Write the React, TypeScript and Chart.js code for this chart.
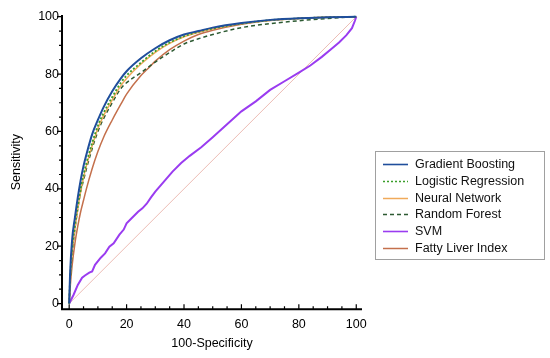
import React, { useEffect, useRef } from "react";
import { Chart, registerables } from "chart.js";

Chart.register(...registerables);

// ---- Data (100-Specificity, Sensitivity) ----
const gbFpr = [0, 0.3, 1, 2, 3, 4, 5, 6, 8, 10, 12, 15, 18, 20, 25, 30, 35, 40, 45, 50, 60, 70, 80, 90, 100];
const gbSens = [0, 10, 22, 30, 37, 43, 48, 52, 59, 64, 68.5, 74, 78.5, 81, 85.5, 89, 91.8, 93.8, 95, 96.2, 97.8, 98.9, 99.5, 99.8, 100];

const lrFpr = [0, 0.3, 1, 2, 3, 4, 5, 6, 8, 10, 12, 15, 18, 20, 25, 30, 35, 40, 45, 50, 60, 70, 80, 90, 100];
const lrSens = [0, 8, 19, 27, 34, 40, 45, 49, 56, 62, 66.5, 72, 77, 79.5, 84, 88, 91, 93.2, 94.7, 95.9, 97.6, 98.8, 99.4, 99.8, 100];

const nnFpr = [0, 0.3, 1, 2, 3, 4, 5, 6, 8, 10, 12, 15, 18, 20, 25, 30, 35, 40, 45, 50, 60, 70, 80, 90, 100];
const nnSens = [0, 7.5, 18, 26, 33, 39, 44, 48, 55, 61, 65.5, 71, 76, 78.5, 83.5, 87.6, 90.7, 93, 94.6, 95.8, 97.6, 98.8, 99.4, 99.8, 100];

const rfFpr = [0, 0.3, 1, 2, 3, 4, 5, 6, 8, 10, 12, 15, 18, 20, 25, 30, 35, 40, 45, 50, 60, 70, 80, 90, 100];
const rfSens = [0, 7, 17, 26, 33, 39, 43, 47, 54, 60, 64.5, 70, 75, 77, 80.5, 84.2, 87.5, 90.5, 92.3, 93.8, 96.2, 97.6, 98.6, 99.4, 100];

const svmFpr = [0, 1.5, 3, 4.5, 5.5, 7, 8, 9, 11, 12.5, 14, 15.5, 17.5, 19, 20, 22, 24, 25.5, 27, 28.5, 30, 33, 36, 39, 42, 46, 50, 55, 60, 65, 70, 75, 80, 84, 88, 91, 94, 96.5, 98.5, 99.5, 100];
const svmSens = [0, 3, 6.5, 9, 9.8, 10.8, 11.2, 13.5, 16, 17.5, 19.8, 21, 24, 25.8, 28, 30, 32, 33.2, 34.8, 37, 39, 42.5, 46, 49, 51.5, 54.5, 58, 62.5, 67, 70.5, 74.5, 77.5, 80.5, 83, 86, 88.5, 91, 93.5, 96, 98.5, 100];

const fliFpr = [0, 0.3, 1, 2, 3, 4, 5, 6, 8, 10, 12, 15, 18, 20, 25, 28, 30, 35, 40, 45, 50, 60, 70, 80, 90, 100];
const fliSens = [0, 5, 13, 21, 27, 32, 36, 40, 47, 53, 58, 64, 69.5, 73, 79.5, 82.5, 84.5, 88.5, 91.5, 93.8, 95.3, 97.4, 98.7, 99.4, 99.8, 100];

const refFpr = [0, 100];
const refSens = [0, 100];

const seriesNames = ["Gradient Boosting", "Logistic Regression", "Neural Network", "Random Forest", "SVM", "Fatty Liver Index"];
const tickValues = [0, 20, 40, 60, 80, 100];
const minorTickValues = [5, 10, 15, 25, 30, 35, 45, 50, 55, 65, 70, 75, 85, 90, 95];
const xTitle = "100-Specificity";
const yTitle = "Sensitivity";

const FONT = "'Liberation Sans', Arial, sans-serif";

const pts = (xs: number[], ys: number[]) => xs.map((x, i) => ({ x, y: ys[i] }));

const axesPlugin = {
  id: "medcalcAxes",
  afterDraw(chart: any) {
    const ctx = chart.ctx;
    const xs = chart.scales.x;
    const ys = chart.scales.y;
    const ca = chart.chartArea;
    ctx.save();
    ctx.strokeStyle = "#000";
    ctx.lineWidth = 2;
    ctx.beginPath();
    ctx.moveTo(ca.left, ca.top);
    ctx.lineTo(ca.left, ca.bottom + 1);
    ctx.moveTo(ca.left - 1, ca.bottom);
    ctx.lineTo(ca.right, ca.bottom);
    ctx.stroke();
    ctx.lineWidth = 1.2;
    ctx.beginPath();
    tickValues.forEach((v) => {
      const py = ys.getPixelForValue(v);
      ctx.moveTo(ca.left - 5, py);
      ctx.lineTo(ca.left, py);
      const px = xs.getPixelForValue(v);
      ctx.moveTo(px, ca.bottom);
      ctx.lineTo(px, ca.bottom - 5);
    });
    minorTickValues.forEach((v) => {
      const py = ys.getPixelForValue(v);
      ctx.moveTo(ca.left - 3, py);
      ctx.lineTo(ca.left, py);
      const px = xs.getPixelForValue(v);
      ctx.moveTo(px, ca.bottom);
      ctx.lineTo(px, ca.bottom - 3);
    });
    ctx.stroke();

    ctx.fillStyle = "#000";
    ctx.font = `12.5px ${FONT}`;
    ctx.textAlign = "center";
    ctx.textBaseline = "middle";
    ctx.fillText(xTitle, (ca.left + ca.right) / 2, 344);
    ctx.save();
    ctx.translate(17, (ca.top + ca.bottom) / 2);
    ctx.rotate(-Math.PI / 2);
    ctx.fillText(yTitle, 0, 0);
    ctx.restore();

    const bx = 375, by = 151, bw = 169, bh = 108;
    ctx.strokeStyle = "#a0a0a0";
    ctx.lineWidth = 1;
    ctx.strokeRect(bx + 0.5, by + 0.5, bw, bh);
    ctx.textAlign = "left";
    ctx.font = `12.5px ${FONT}`;
    seriesNames.forEach((name, i) => {
      const ds = chart.data.datasets[i];
      const cy = 164 + i * 16.8;
      ctx.save();
      ctx.strokeStyle = ds.borderColor;
      ctx.lineWidth = Math.min(ds.borderWidth, 1.6);
      ctx.setLineDash(ds.borderDash || []);
      ctx.beginPath();
      ctx.moveTo(383, Math.round(cy) + 0.5);
      ctx.lineTo(408, Math.round(cy) + 0.5);
      ctx.stroke();
      ctx.restore();
      ctx.fillStyle = "#111";
      ctx.fillText(name, 415, cy + 0.5);
    });
    ctx.restore();
  },
};

export default function App() {
  const ref = useRef<HTMLCanvasElement | null>(null);
  useEffect(() => {
    if (!ref.current) return;
    const line = (label: string, data: any, color: string, width: number, dash: number[] = []) => ({
      label,
      data,
      borderColor: color,
      backgroundColor: color,
      borderWidth: width,
      borderDash: dash,
      pointRadius: 0,
      cubicInterpolationMode: "monotone" as const,
      fill: false,
    });
    const chart = new Chart(ref.current, {
      type: "line",
      data: {
        datasets: [
          line(seriesNames[0], pts(gbFpr, gbSens), "#1f4e9c", 2),
          line(seriesNames[1], pts(lrFpr, lrSens), "#3a9e2a", 1.8, [2, 2]),
          line(seriesNames[2], pts(nnFpr, nnSens), "#f0aa5a", 1.5),
          line(seriesNames[3], pts(rfFpr, rfSens), "#2d5a32", 1.5, [4, 3]),
          { ...line(seriesNames[4], pts(svmFpr, svmSens), "#9a3cf0", 2), cubicInterpolationMode: "default" as const, tension: 0 },
          line(seriesNames[5], pts(fliFpr, fliSens), "#c4704c", 1.5),
          { ...line("ref", pts(refFpr, refSens), "#ecbcb4", 1), cubicInterpolationMode: "default" as const, tension: 0 },
        ],
      },
      options: {
        responsive: false,
        animation: false,
        devicePixelRatio: 1,
        layout: { padding: { top: 15, right: 188, left: 0, bottom: 0 } },
        plugins: { legend: { display: false }, tooltip: { enabled: false } },
        scales: {
          x: {
            type: "linear",
            min: -2.5,
            max: 102,
            grid: { display: false, drawTicks: false },
            border: { display: false },
            afterBuildTicks: (s: any) => {
              s.ticks = tickValues.map((v) => ({ value: v }));
            },
            afterFit: (s: any) => {
              s.height = 48.7;
            },
            ticks: { padding: 8, color: "#000", font: { family: FONT, size: 12.5 }, maxRotation: 0, autoSkip: false },
          },
          y: {
            type: "linear",
            min: -2,
            max: 100.6,
            grid: { display: false, drawTicks: false },
            border: { display: false },
            afterBuildTicks: (s: any) => {
              s.ticks = tickValues.map((v) => ({ value: v }));
            },
            afterFit: (s: any) => {
              s.width = 62;
            },
            ticks: { padding: 3, color: "#000", font: { family: FONT, size: 12.5 }, autoSkip: false },
          },
        },
      },
      plugins: [axesPlugin],
    });
    return () => chart.destroy();
  }, []);
  return (
    <div style={{ position: "fixed", left: 0, top: 0, width: 550, height: 358, background: "#fff" }}>
      <canvas ref={ref} width={550} height={358} />
    </div>
  );
}
